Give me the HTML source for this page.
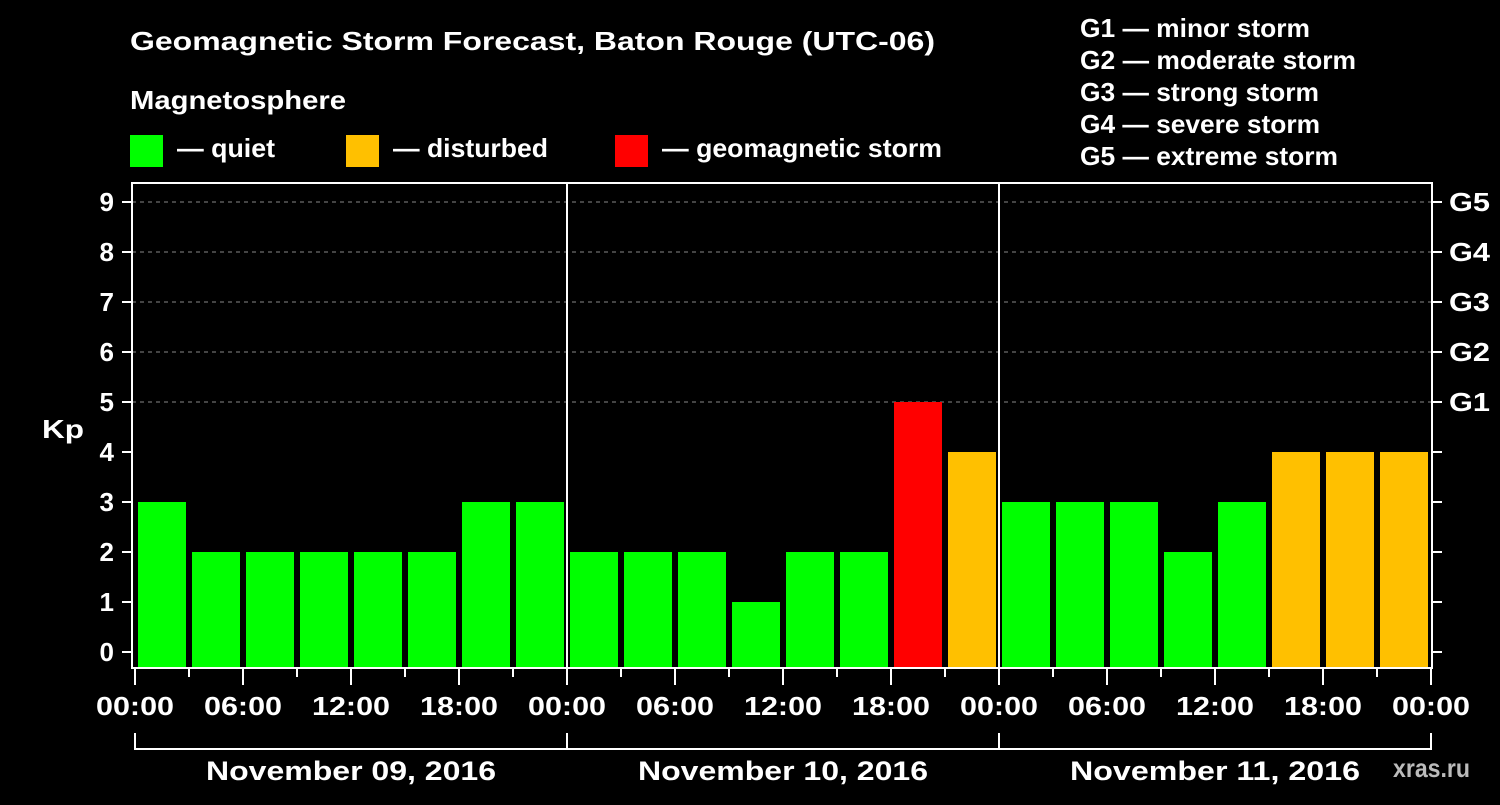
<!DOCTYPE html>
<html><head><meta charset="utf-8"><style>
html,body{margin:0;padding:0;background:#000;}
svg text{font-family:"Liberation Sans",Arial,sans-serif;font-weight:bold;fill:#fff;}
</style></head><body>
<svg width="1500" height="800" viewBox="0 0 1500 800" xmlns="http://www.w3.org/2000/svg">
<rect width="1500" height="800" fill="#000"/>
<text x="130" y="50" font-size="26" textLength="805" lengthAdjust="spacingAndGlyphs">Geomagnetic Storm Forecast, Baton Rouge (UTC-06)</text>
<text x="130" y="109" font-size="26" textLength="216" lengthAdjust="spacingAndGlyphs">Magnetosphere</text>
<g><rect x="130" y="135" width="33" height="32" fill="#00ff00"/><text x="177" y="157" font-size="26" textLength="98" lengthAdjust="spacingAndGlyphs">— quiet</text></g>
<g><rect x="346" y="135" width="33" height="32" fill="#ffc000"/><text x="393" y="157" font-size="26" textLength="155" lengthAdjust="spacingAndGlyphs">— disturbed</text></g>
<g><rect x="615" y="135" width="33" height="32" fill="#ff0000"/><text x="662" y="157" font-size="26" textLength="280" lengthAdjust="spacingAndGlyphs">— geomagnetic storm</text></g>
<g font-size="26">
<text x="1080" y="37" textLength="230" lengthAdjust="spacingAndGlyphs">G1 — minor storm</text>
<text x="1080" y="69" textLength="276" lengthAdjust="spacingAndGlyphs">G2 — moderate storm</text>
<text x="1080" y="101" textLength="239" lengthAdjust="spacingAndGlyphs">G3 — strong storm</text>
<text x="1080" y="133" textLength="240" lengthAdjust="spacingAndGlyphs">G4 — severe storm</text>
<text x="1080" y="165" textLength="258" lengthAdjust="spacingAndGlyphs">G5 — extreme storm</text>
</g>
<text x="42" y="438" font-size="26" textLength="42" lengthAdjust="spacingAndGlyphs">Kp</text>
<text x="1393" y="777" font-size="26" textLength="77" lengthAdjust="spacingAndGlyphs" style="fill:#bbb">xras.ru</text>
<g id="plot"></g>
</svg>
<script>
const values = [3,2,2,2,2,2,3,3, 2,2,2,1,2,2,5,4, 3,3,3,2,3,4,4,4];
const dayLabels = ["November 09, 2016","November 10, 2016","November 11, 2016"];
const hourLabels = ["00:00","06:00","12:00","18:00"];
const yTicks = [0,1,2,3,4,5,6,7,8,9];
const gLabels = ["G1","G2","G3","G4","G5"];
const NS="http://www.w3.org/2000/svg";
const plot=document.getElementById('plot');
const x0=135, slot=54, yZero=652, unit=50, plotTop=183, plotBottom=668, plotLeft=132, plotRight=1432;
const X=i=>x0+i*slot, Y=v=>yZero-v*unit;
function el(t,a){const e=document.createElementNS(NS,t);for(const k in a)e.setAttribute(k,a[k]);plot.appendChild(e);return e;}
for(const v of yTicks){
  if(v>=5){const l=el('line',{x1:plotLeft,x2:plotRight,y1:Y(v),y2:Y(v),stroke:'#888','stroke-width':1,'stroke-dasharray':'4,4'});
  
  }
}
values.forEach((v,i)=>{
  const c=v>=5?'#ff0000':(v>=4?'#ffc000':'#00ff00');
  const r=el('rect',{x:X(i)+3,y:Y(v),width:48,height:plotBottom-1-Y(v),fill:c});
  
  
});
const f=el('rect',{x:plotLeft,y:plotTop,width:plotRight-plotLeft,height:plotBottom-plotTop,fill:'none',stroke:'#fff','stroke-width':2});


for(let d=1;d<dayLabels.length;d++){
  const l=el('line',{x1:X(d*8),x2:X(d*8),y1:plotTop,y2:plotBottom,stroke:'#fff','stroke-width':2});
  
  
}
for(const v of yTicks){
  el('line',{x1:122,x2:plotLeft,y1:Y(v),y2:Y(v),stroke:'#fff','stroke-width':2});
  el('line',{x1:plotRight,x2:1442,y1:Y(v),y2:Y(v),stroke:'#fff','stroke-width':2});
  const t=el('text',{x:114,y:Y(v)+9,'font-size':26,'text-anchor':'end'});t.textContent=v;
  
  
}
gLabels.forEach((s,i)=>{
  const t=el('text',{x:1449,y:Y(5+i)+9,'font-size':26,textLength:41,lengthAdjust:'spacingAndGlyphs'});t.textContent=s;
  
  
});
for(let i=0;i<=values.length;i++){
  const major=i%2===0;
  el('line',{x1:X(i),x2:X(i),y1:plotBottom,y2:plotBottom+(major?17:9),stroke:'#fff','stroke-width':2});
  if(major){
    const t=el('text',{x:X(i)-39,y:715,'font-size':26,textLength:78,lengthAdjust:'spacingAndGlyphs'});
    t.textContent=hourLabels[(i/2)%4];
    
    
  }
}
dayLabels.forEach((s,d)=>{
  const a=X(d*8), b=X(d*8+8);
  el('line',{x1:a,x2:a,y1:733,y2:750,stroke:'#fff','stroke-width':2});
  el('line',{x1:a,x2:b,y1:749,y2:749,stroke:'#fff','stroke-width':2});
  if(d===dayLabels.length-1) el('line',{x1:b,x2:b,y1:733,y2:750,stroke:'#fff','stroke-width':2});
  const t=el('text',{x:(a+b)/2-145,y:780,'font-size':27,textLength:290,lengthAdjust:'spacingAndGlyphs'});t.textContent=s;
  
  
});
</script>
</body></html>
